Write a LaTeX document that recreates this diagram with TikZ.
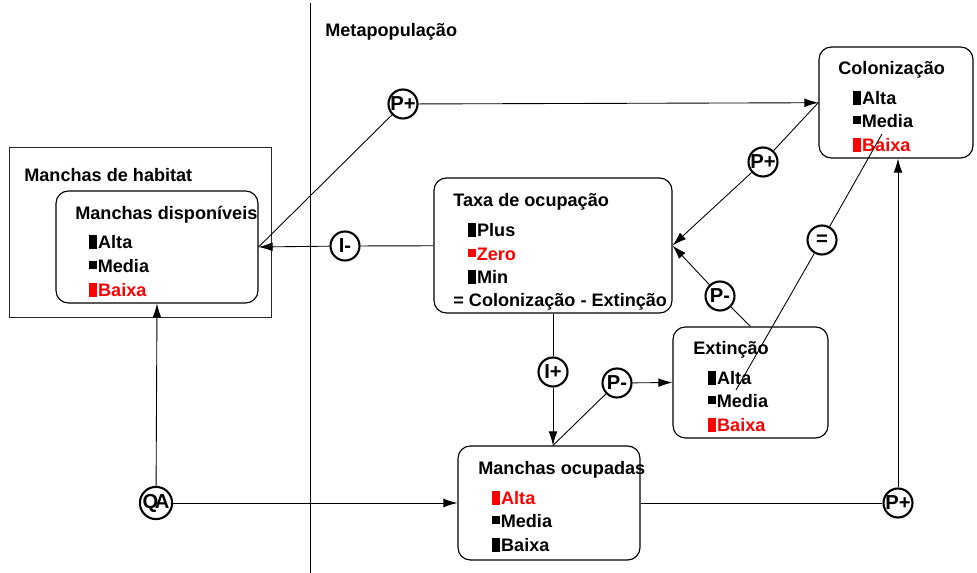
\documentclass[tikz,border=0pt]{standalone}
\usepackage{fontspec}
\setmainfont{Liberation Sans}
\usepackage{xcolor}
\usetikzlibrary{arrows.meta}
\newcommand{\hibar}[1]{{\color{#1}\rule{4.4pt}{8.2pt}}\kern0.6pt}
\newcommand{\midsq}[1]{{\color{#1}\rule[2.4pt]{4.2pt}{4.2pt}}\kern0.6pt}
\tikzstyle{frame} = [rectangle, draw=black!85, line width=0.55pt]
\tikzstyle{box} = [rectangle, rounded corners=7pt, draw=black, line width=0.65pt]
\tikzstyle{txt} = [anchor=base west, inner sep=0pt, font=\fontsize{10.3}{12}\selectfont\bfseries]
\tikzstyle{sign} = [circle, draw=black, line width=1.2pt, minimum size=0.58cm, inner sep=0pt, font=\fontsize{11.5}{13}\selectfont\bfseries]
\tikzstyle{line} = [line width=0.5pt]
\tikzstyle{arrow} = [line width=0.5pt, -{Latex[length=8pt,width=5pt]}]

\begin{document}
\begin{tikzpicture}[x=0.02cm, y=-0.02cm]
        \useasboundingbox (0,0) rectangle (977,573);

        \draw [line] (310,3) -- (310,573);
        \node (meta) [txt] at (325,37) {Metapopulação};

        % manchas de habitat
        \node (habitat) [frame, minimum width=5.26cm, minimum height=3.42cm] at (140.5,232.5) {};
        \node (habitat-t) [txt] at (24,182) {Manchas de habitat};
        \node (disp) [box, minimum width=4.04cm, minimum height=2.24cm] at (157,247) {};
        \node (disp-t) [txt] at (75,220) {Manchas disponíveis};
        \node (disp-1) [txt] at (89,249) {\hibar{black}Alta};
        \node (disp-2) [txt] at (89,273) {\midsq{black}Media};
        \node (disp-3) [txt, text=red] at (89,297) {\hibar{red}Baixa};

        % taxa de ocupacao
        \node (taxa) [box, minimum width=4.76cm, minimum height=2.70cm] at (553,245.5) {};
        \node (taxa-t) [txt] at (453,207) {Taxa de ocupação};
        \node (taxa-1) [txt] at (468,237) {\hibar{black}Plus};
        \node (taxa-2) [txt, text=red] at (468,261) {\midsq{red}Zero};
        \node (taxa-3) [txt] at (468,284) {\hibar{black}Min};
        \node (taxa-4) [txt] at (453,307) {= Colonização - Extinção};

        % colonizacao
        \node (colon) [box, minimum width=3.08cm, minimum height=2.22cm] at (896,102.5) {};
        \node (colon-t) [txt] at (838,75) {Colonização};
        \node (colon-1) [txt] at (853,105) {\hibar{black}Alta};
        \node (colon-2) [txt] at (853,128) {\midsq{black}Media};
        \node (colon-3) [txt, text=red] at (853,152) {\hibar{red}Baixa};

        % extincao
        \node (ext) [box, minimum width=3.10cm, minimum height=2.22cm] at (750.5,382.5) {};
        \node (ext-t) [txt] at (693,355) {Extinção};
        \node (ext-1) [txt] at (708,385) {\hibar{black}Alta};
        \node (ext-2) [txt] at (708,408) {\midsq{black}Media};
        \node (ext-3) [txt, text=red] at (708,432) {\hibar{red}Baixa};

        % manchas ocupadas
        \node (ocup) [box, minimum width=3.64cm, minimum height=2.28cm] at (549,503) {};
        \node (ocup-t) [txt] at (478,475) {Manchas ocupadas};
        \node (ocup-1) [txt, text=red] at (492,505) {\hibar{red}Alta};
        \node (ocup-2) [txt] at (492,528) {\midsq{black}Media};
        \node (ocup-3) [txt] at (492,552) {\hibar{black}Baixa};

        % influencias
        \node (pp1) [sign] at (403,104) {P+};
        \node (im) [sign] at (345,246) {I-};
        \node (pp2) [sign] at (763,162) {P+};
        \node (pm1) [sign] at (720,296) {P-};
        \node (eq) [sign] at (822,240) {=};
        \node (ip) [sign] at (553,372) {I+};
        \node (pm2) [sign] at (617,383) {P-};
        \node (qa) [sign] at (156,503) {Q\kern-2pt A};
        \node (pp3) [sign] at (898,503) {P+};
        \coordinate (eq-a) at (882,134);
        \coordinate (eq-b) at (736,390);

        \draw [line] (disp.east) -- (pp1);
        \draw [arrow] (pp1) -- (colon);
        \draw [line] (taxa) -- (im);
        \draw [arrow] (im) -- (disp.east);
        \draw [line] (colon.west) -- (pp2);
        \draw [arrow] (pp2) -- (taxa.east);
        \draw [line] (ext.north) -- (pm1);
        \draw [arrow] (pm1) -- (taxa.east);
        \draw [line] (eq-a) -- (eq);
        \draw [line] (eq) -- (eq-b);
        \draw [line] (taxa.south) -- (ip);
        \draw [arrow] (ip) -- (ip |- ocup.north);
        \draw [line] (ip |- ocup.north) -- (pm2);
        \draw [arrow] (pm2) -- (ext.west);
        \draw [arrow] (qa) -- (disp.south);
        \draw [arrow] (qa) -- (ocup.west);
        \draw [line] (ocup.east) -- (pp3);
        \draw [arrow] (pp3) -- (pp3 |- colon.south);
    \end{tikzpicture}
\end{document}
